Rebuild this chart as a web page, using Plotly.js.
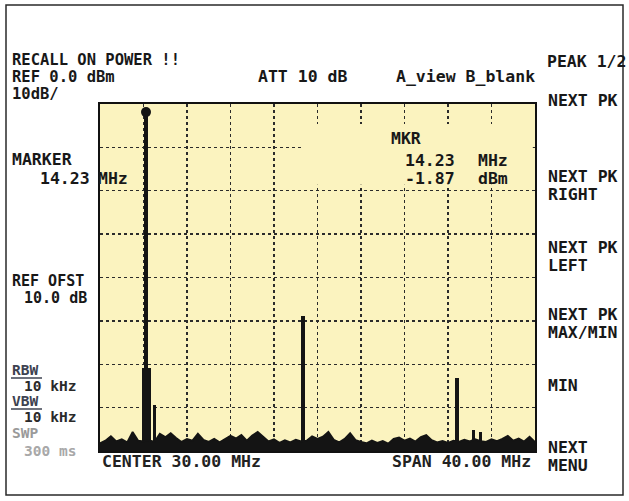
<!DOCTYPE html>
<html>
<head>
<meta charset="utf-8">
<script src="https://cdn.plot.ly/plotly-3.0.1.min.js"></script>
<style>
  html, body { margin: 0; padding: 0; background: #ffffff; }
  #chart { width: 629px; height: 501px; }
</style>
</head>
<body>
<div id="chart"></div>
<script>
// ---------- data ----------
// Noise floor of the sweep, MHz / dBm
var noiseFreq = [10.0, 10.5, 11.0, 11.5, 12.0, 12.5, 13.0, 13.5, 14.0, 14.5,
  15.0, 15.5, 16.0, 16.5, 17.0, 17.5, 18.0, 18.5, 19.0, 19.5,
  20.0, 20.5, 21.0, 21.5, 22.0, 22.5, 23.0, 23.5, 24.0, 24.5,
  25.0, 25.5, 26.0, 26.5, 27.0, 27.5, 28.0, 28.5, 29.0, 29.5,
  30.0, 30.5, 31.0, 31.5, 32.0, 32.5, 33.0, 33.5, 34.0, 34.5,
  35.0, 35.5, 36.0, 36.5, 37.0, 37.5, 38.0, 38.5, 39.0, 39.5,
  40.0, 40.5, 41.0, 41.5, 42.0, 42.5, 43.0, 43.5, 44.0, 44.5,
  45.0, 45.5, 46.0, 46.5, 47.0, 47.5, 48.0, 48.5, 49.0, 49.5, 50.0];
var noiseLevel = [-78.2, -77.6, -76.6, -77.8, -77.3, -78.0, -75.6, -77.6, -77.8, -77.5,
  -77.9, -76.0, -76.8, -75.9, -77.0, -77.9, -77.2, -77.6, -76.0, -77.4,
  -77.9, -77.2, -78.0, -77.3, -76.5, -77.1, -76.3, -77.6, -76.4, -75.6,
  -76.8, -77.8, -77.3, -78.1, -77.5, -78.0, -77.4, -77.8, -77.6, -76.6,
  -77.2, -76.7, -75.6, -77.4, -78.0, -77.2, -75.9, -77.5, -77.9, -78.2,
  -77.6, -78.1, -77.7, -78.3, -77.2, -76.9, -77.6, -77.1, -77.8, -76.8,
  -76.3, -77.5, -78.0, -77.7, -78.1, -77.6, -77.9, -77.4, -77.8, -77.3,
  -77.7, -77.9, -77.3, -77.7, -77.2, -76.5, -77.6, -77.1, -77.8, -76.7, -77.9];

// Discrete signals (peak frequency MHz, peak level dBm, displayed width MHz)
var peakFreq  = [14.26, 14.23, 14.98, 28.68, 42.80, 44.33, 44.96];
var peakLevel = [-60.8, -1.87, -69.3, -48.8, -63.2, -75.1, -75.6];
var peakWidth = [0.86, 0.44, 0.26, 0.38, 0.40, 0.24, 0.24];

// Marker readout
var markerFreq = [14.23];
var markerLevel = [-1.87];

// Axis settings
var centerMHz = 30, spanMHz = 40, refLevel = 0, dbPerDiv = 10, nDivY = 8, nDivX = 10;

// ---------- geometry helpers (pixel -> paper) ----------
var L = 100, R = 535, T = 104, B = 451;
function px(x) { return (x - L) / (R - L); }
function py(y) { return (B - y) / (B - T); }

var fmin = centerMHz - spanMHz / 2, fmax = centerMHz + spanMHz / 2;
var ybot = refLevel - dbPerDiv * nDivY;

var traces = [
  { x: [fmin, fmax], y: [ybot, ybot], type: 'scatter', mode: 'lines',
    line: { width: 0, color: '#111' }, hoverinfo: 'skip', showlegend: false },
  { x: noiseFreq, y: noiseLevel, type: 'scatter', mode: 'lines',
    fill: 'tonexty', fillcolor: '#141414',
    line: { color: '#141414', width: 1.8 }, hoverinfo: 'skip', showlegend: false },
  { x: peakFreq, y: peakLevel.map(function (v) { return v - ybot; }), base: ybot,
    width: peakWidth, type: 'bar', marker: { color: '#141414', line: { width: 0 } },
    hoverinfo: 'skip', showlegend: false },
  { x: markerFreq, y: markerLevel, type: 'scatter', mode: 'markers',
    marker: { symbol: 'circle', size: 10, color: '#141414' },
    hoverinfo: 'skip', showlegend: false }
];

var FONT = 'DejaVu Sans Mono, Liberation Mono, monospace';
var DARK = '#181818';
function ann(text, x, y, opts) {
  opts = opts || {};
  return {
    xref: 'paper', yref: 'paper', x: px(x), y: py(y),
    xanchor: opts.anchor || 'left', yanchor: 'middle',
    text: '<b>' + text + '</b>', showarrow: false,
    font: { family: FONT, size: opts.size || 16.5, color: opts.color || DARK },
    borderpad: 0
  };
}
var S = 14.5; // tighter stacked labels on the left

var annotations = [
  ann('RECALL ON POWER !!', 11, 60, { size: 15.5 }),
  ann('REF 0.0 dBm', 11, 77, { size: 15.5 }),
  ann('10dB/', 11, 94, { size: 15.5 }),
  ann('ATT 10 dB', 257, 77),
  ann('A_view B_blank', 395, 77),
  ann('PEAK 1/2', 546, 61),
  ann('NEXT PK', 547, 100),
  ann('MARKER', 11, 159),
  ann('14.23', 91, 178, { anchor: 'right' }),
  ann('MHz', 97, 178),
  ann('MKR', 390, 138),
  ann('14.23', 456, 160, { anchor: 'right' }),
  ann('MHz', 477, 160),
  ann('-1.87', 456, 178, { anchor: 'right' }),
  ann('dBm', 477, 178),
  ann('NEXT PK', 547, 176),
  ann('RIGHT', 547, 194),
  ann('NEXT PK', 547, 247),
  ann('LEFT', 547, 265),
  ann('NEXT PK', 547, 314),
  ann('MAX/MIN', 547, 332),
  ann('MIN', 547, 385),
  ann('NEXT', 547, 447),
  ann('MENU', 547, 465),
  ann('REF OFST', 11, 281, { size: 15 }),
  ann('10.0 dB', 23, 298, { size: 15 }),
  ann('RBW', 11, 370, { color: '#3d4250', size: S }),
  ann('10 kHz', 23, 386, { color: '#2a2a2a', size: S }),
  ann('VBW', 11, 401, { color: '#3d4250', size: S }),
  ann('10 kHz', 23, 417, { color: '#2a2a2a', size: S }),
  ann('SWP', 11, 433, { color: '#9a9a9a', size: S }),
  ann('300 ms', 23, 451, { color: '#a8a8a8', size: S }),
  ann('CENTER 30.00 MHz', 101, 462, { color: '#222' }),
  ann('SPAN 40.00 MHz', 391, 462, { color: '#222' })
];

var shapes = [
  // outer picture frame
  { type: 'rect', xref: 'paper', yref: 'paper',
    x0: px(6), x1: px(623), y0: py(495), y1: py(5),
    line: { color: '#2a2a2a', width: 1.5 }, fillcolor: 'rgba(0,0,0,0)', layer: 'below' },
  // cleared area behind the marker readout
  { type: 'rect', xref: 'x', yref: 'y',
    x0: 28.7, x1: 49.8, y0: -18.6, y1: -4.6,
    line: { width: 0 }, fillcolor: '#fbf3bf', layer: 'above' },
  // underlines of RBW / VBW
  { type: 'line', xref: 'paper', yref: 'paper', x0: px(11), x1: px(42), y0: py(378), y1: py(378),
    line: { color: '#3d4250', width: 1.5 } },
  { type: 'line', xref: 'paper', yref: 'paper', x0: px(11), x1: px(42), y0: py(409), y1: py(409),
    line: { color: '#3d4250', width: 1.5 } }
];

var axisCommon = {
  showgrid: true, gridcolor: '#2b2b2b', gridwidth: 1.4, griddash: 'dot',
  showline: true, mirror: true, linecolor: '#111', linewidth: 2,
  zeroline: false, showticklabels: false, ticks: '', fixedrange: true
};

var layout = {
  width: 629, height: 501,
  margin: { l: L, r: 629 - R, t: T, b: 501 - B, pad: 0 },
  paper_bgcolor: '#ffffff', plot_bgcolor: '#fbf3bf',
  showlegend: false, barmode: 'overlay', bargap: 0,
  xaxis: Object.assign({ range: [fmin, fmax], tick0: fmin, dtick: spanMHz / nDivX }, axisCommon),
  yaxis: Object.assign({ range: [ybot, refLevel], tick0: ybot, dtick: dbPerDiv }, axisCommon),
  annotations: annotations,
  shapes: shapes
};

Plotly.newPlot('chart', traces, layout, { staticPlot: true, displayModeBar: false });
</script>
</body>
</html>
